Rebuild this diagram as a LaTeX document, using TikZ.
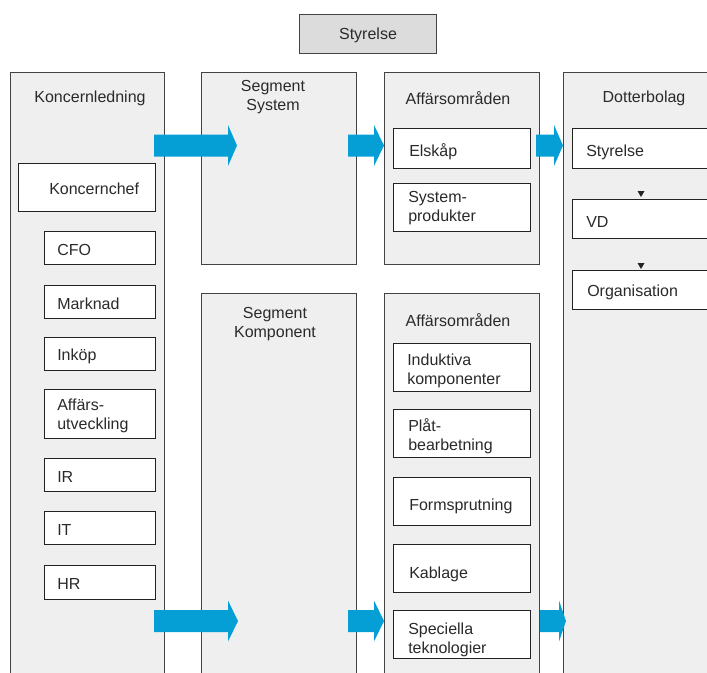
\documentclass[tikz,border=0pt]{standalone}
\usepackage{fontspec}
\setmainfont{Liberation Sans}
\usetikzlibrary{fit}
\definecolor{panelgray}{HTML}{EFEFEF}
\definecolor{topgray}{HTML}{DCDCDC}
\definecolor{arrowblue}{HTML}{069FD5}
\definecolor{ink}{HTML}{222222}
\definecolor{textink}{HTML}{2A2A2A}
\newcommand{\flowarrow}[4]{% x start, head base, tip, y center
  \fill[arrowblue] (#1,#4-11) -- (#2,#4-11) -- (#2,#4-20.5) -- (#3,#4) -- (#2,#4+20.5) -- (#2,#4+11) -- (#1,#4+11) -- cycle;}
\newcommand{\downtri}[2]{\fill[ink] (#1-3.5,#2-3) -- (#1+3.5,#2-3) -- (#1,#2+3) -- cycle;}
\begin{document}
\begin{tikzpicture}[x=0.75pt,y=-0.75pt,
  panel/.style={draw=ink!85, fill=panelgray, line width=0.75pt, inner sep=0pt},
  topbox/.style={draw=ink!85, fill=topgray, line width=0.75pt, inner sep=0pt},
  wbox/.style={draw=ink, fill=white, line width=0.75pt, inner sep=0pt},
  txt/.style={font=\fontsize{12}{14.25}\selectfont, text=textink, inner sep=0pt, yshift=-1.5pt},
  ctxt/.style={txt, align=center},
  ltxt/.style={txt, align=left, anchor=west}]
\useasboundingbox (0,0) rectangle (707,672);

% top box
\node[topbox, fit={(299,14)(436,53)}] (top) {};
\node[ctxt] (toptxt) at (368,33) {Styrelse};

% panels
\node[panel, fit={(10,72)(164,700)}] (kl) {};
\node[panel, fit={(201,72)(356,264)}] (segsys) {};
\node[panel, fit={(201,293)(356,700)}] (segkomp) {};
\node[panel, fit={(384,72)(539,264)}] (affA) {};
\node[panel, fit={(384,293)(539,700)}] (affB) {};
\node[panel, fit={(563,72)(730,700)}] (dotter) {};

\node[ctxt] (kltxt) at (90,96) {Koncernledning};
\node[ctxt] (segsystxt) at (273,95) {Segment\\System};
\node[ctxt] (segkomptxt) at (275,322.5) {Segment\\Komponent};
\node[ctxt] (affAtxt) at (458,96) {Affärsområden};
\node[ctxt] (affBtxt) at (458,318) {Affärsområden};
\node[ctxt] (dottertxt) at (644,96) {Dotterbolag};

% arrows
\flowarrow{154}{228}{237}{145.5}
\flowarrow{348}{374}{384}{145.5}
\flowarrow{536}{554}{563}{145.5}
\flowarrow{154}{228}{238}{621}
\flowarrow{348}{374}{384}{621}
\flowarrow{540}{559}{566}{621}

% Koncernledning boxes
\node[wbox, fit={(18,163)(155,211)}] (kc) {};
\node[ltxt] (kctxt) at (49,187) {Koncernchef};
\node[wbox, fit={(44,231)(155,264)}] (cfo) {};
\node[ltxt] (cfotxt) at (57,248) {CFO};
\node[wbox, fit={(44,285)(155,318)}] (mark) {};
\node[ltxt] (marktxt) at (57,302) {Marknad};
\node[wbox, fit={(44,337)(155,370)}] (ink) {};
\node[ltxt] (inktxt) at (57,354) {Inköp};
\node[wbox, fit={(44,389)(155,438)}] (aff) {};
\node[ltxt] (afftxt) at (57,414) {Affärs-\\utveckling};
\node[wbox, fit={(44,458)(155,491)}] (ir) {};
\node[ltxt] (irtxt) at (57,475) {IR};
\node[wbox, fit={(44,511)(155,544)}] (it) {};
\node[ltxt] (ittxt) at (57,528) {IT};
\node[wbox, fit={(44,565)(155,599)}] (hr) {};
\node[ltxt] (hrtxt) at (57,582) {HR};

% Affärsområden top
\node[wbox, fit={(393,128)(530,168)}] (els) {};
\node[ltxt] (elstxt) at (409,150) {Elskåp};
\node[wbox, fit={(393,183)(530,231)}] (sysp) {};
\node[ltxt] (sysptxt) at (408,206.5) {System-\\produkter};

% Affärsområden bottom
\node[wbox, fit={(393,343)(530,391)}] (ind) {};
\node[ltxt] (indtxt) at (407,368.5) {Induktiva\\komponenter};
\node[wbox, fit={(393,409)(530,457)}] (plat) {};
\node[ltxt] (plattxt) at (408,434.5) {Plåt-\\bearbetning};
\node[wbox, fit={(393,477)(530,525)}] (form) {};
\node[ltxt] (formtxt) at (409,504) {Formsprutning};
\node[wbox, fit={(393,544)(530,592)}] (kab) {};
\node[ltxt] (kabtxt) at (409,572) {Kablage};
\node[wbox, fit={(393,610)(530,658)}] (spec) {};
\node[ltxt] (spectxt) at (408,637.5) {Speciella\\teknologier};

% Dotterbolag boxes
\node[wbox, fit={(572,128)(720,168)}] (dsty) {};
\node[ltxt] (dstytxt) at (586,150) {Styrelse};
\node[wbox, fit={(572,199)(720,238)}] (dvd) {};
\node[ltxt] (dvdtxt) at (586,220) {VD};
\node[wbox, fit={(572,270)(720,309)}] (dorg) {};
\node[ltxt] (dorgtxt) at (587,290) {Organisation};

\downtri{641}{194}
\downtri{641}{266}
\end{tikzpicture}
\end{document}
